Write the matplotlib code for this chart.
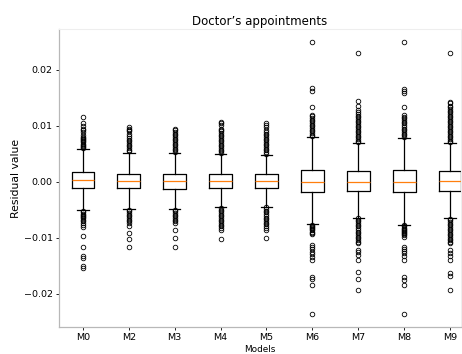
import matplotlib
matplotlib.use("Agg")
import matplotlib.pyplot as plt

models = ["M0", "M2", "M3", "M4", "M5", "M6", "M7", "M8", "M9"]
medians = [0.00025, 0.00007, 0.00007, 0.00007, 0.00007, 0.0, 0.0, 0.0, 0.0001]
q1s = [-0.00107, -0.00118, -0.00125, -0.00118, -0.00118, -0.0019, -0.0016, -0.0019, -0.0016]
q3s = [0.00173, 0.00132, 0.00132, 0.00132, 0.00135, 0.0021, 0.0019, 0.0021, 0.0019]
whis_lo = [-0.00505, -0.0049, -0.0049, -0.0046, -0.0045, -0.0076, -0.0064, -0.0077, -0.0065]
whis_hi = [0.00584, 0.0052, 0.0051, 0.0049, 0.0048, 0.0079, 0.0069, 0.0078, 0.0069]

fliers_M0 = [0.0060, 0.0062, 0.0064, 0.0066, 0.0068, 0.0070, 0.0072, 0.0074, 0.0076, 0.0078, 0.0080,
             0.0084, 0.0088, 0.0092, 0.0095, 0.0099, 0.0104, 0.0116,
             -0.0053, -0.0055, -0.0057, -0.0059, -0.0061, -0.0063, -0.0065, -0.0068, -0.0071,
             -0.0074, -0.0077, -0.0081, -0.0097, -0.0116, -0.0132, -0.0137, -0.0151, -0.0154]
fliers_M2 = [0.0054, 0.0057, 0.0060, 0.0063, 0.0066, 0.0069, 0.0072, 0.0075, 0.0078, 0.0082,
             0.0086, 0.0090, 0.0093, 0.0095, 0.0097,
             -0.0050, -0.0053, -0.0056, -0.0059, -0.0062, -0.0065, -0.0068, -0.0071, -0.0074,
             -0.0080, -0.0091, -0.0103, -0.0116]
fliers_M3 = [0.0053, 0.0056, 0.0059, 0.0062, 0.0065, 0.0068, 0.0071, 0.0074, 0.0077, 0.0080,
             0.0083, 0.0086, 0.0089, 0.0092, 0.0095,
             -0.0050, -0.0053, -0.0056, -0.0059, -0.0062, -0.0065, -0.0068, -0.0071, -0.0074,
             -0.0086, -0.0101, -0.0116]
fliers_M4 = [0.0051, 0.0054, 0.0057, 0.0060, 0.0063, 0.0066, 0.0069, 0.0072, 0.0075, 0.0078,
             0.0081, 0.0084, 0.0087, 0.0090, 0.0093, 0.0095, 0.0101, 0.0104, 0.0107,
             -0.0047, -0.0050, -0.0053, -0.0056, -0.0059, -0.0062, -0.0065, -0.0068, -0.0071,
             -0.0074, -0.0077, -0.0080, -0.0083, -0.0086, -0.0103]
fliers_M5 = [0.0050, 0.0053, 0.0056, 0.0059, 0.0062, 0.0065, 0.0068, 0.0071, 0.0074, 0.0077,
             0.0080, 0.0083, 0.0086, 0.0089, 0.0093, 0.0098, 0.0101, 0.0104,
             -0.0046, -0.0049, -0.0052, -0.0055, -0.0058, -0.0061, -0.0064, -0.0067, -0.0070,
             -0.0073, -0.0076, -0.0079, -0.0082, -0.0086, -0.0101]
fliers_M6 = [0.0081, 0.0084, 0.0087, 0.0090, 0.0093, 0.0096, 0.0099, 0.0102, 0.0105, 0.0108,
             0.0111, 0.0114, 0.0117, 0.0119, 0.0134, 0.0162, 0.0167, 0.0250,
             -0.0077, -0.0079, -0.0081, -0.0083, -0.0085, -0.0087, -0.0089, -0.0091, -0.0093,
             -0.0113, -0.0117, -0.0121, -0.0125, -0.0130, -0.0134, -0.0140,
             -0.0170, -0.0174, -0.0184, -0.0236]
fliers_M7 = [0.0070, 0.0073, 0.0076, 0.0079, 0.0082, 0.0085, 0.0088, 0.0091, 0.0094, 0.0097,
             0.0100, 0.0103, 0.0106, 0.0109, 0.0112, 0.0115, 0.0118, 0.0121, 0.0124, 0.0128,
             0.0136, 0.0145, 0.0229,
             -0.0065, -0.0068, -0.0071, -0.0074, -0.0077, -0.0080, -0.0083, -0.0086, -0.0089,
             -0.0092, -0.0095, -0.0098, -0.0101, -0.0104, -0.0107, -0.0110,
             -0.0122, -0.0126, -0.0131, -0.0140, -0.0162, -0.0174, -0.0193]
fliers_M8 = [0.0080, 0.0083, 0.0086, 0.0089, 0.0092, 0.0095, 0.0098, 0.0101, 0.0104, 0.0107,
             0.0110, 0.0113, 0.0116, 0.0119, 0.0134, 0.0158, 0.0162, 0.0166, 0.0250,
             -0.0078, -0.0080, -0.0082, -0.0084, -0.0086, -0.0088, -0.0090, -0.0092, -0.0094,
             -0.0096, -0.0098, -0.0116, -0.0120, -0.0124, -0.0128, -0.0133, -0.0140,
             -0.0170, -0.0175, -0.0184, -0.0236]
fliers_M9 = [0.0070, 0.0073, 0.0076, 0.0079, 0.0082, 0.0085, 0.0088, 0.0091, 0.0094, 0.0097,
             0.0100, 0.0103, 0.0106, 0.0109, 0.0112, 0.0115, 0.0118, 0.0121, 0.0124, 0.0127,
             0.0130, 0.0133, 0.0136, 0.0140, 0.0143, 0.0229,
             -0.0066, -0.0069, -0.0072, -0.0075, -0.0078, -0.0081, -0.0084, -0.0087, -0.0090,
             -0.0093, -0.0096, -0.0099, -0.0102, -0.0105, -0.0108, -0.0110,
             -0.0122, -0.0127, -0.0132, -0.0140, -0.0163, -0.0168, -0.0193]
fliers = [fliers_M0, fliers_M2, fliers_M3, fliers_M4, fliers_M5,
          fliers_M6, fliers_M7, fliers_M8, fliers_M9]

stats = []
for i, name in enumerate(models):
    stats.append(dict(label=name, med=medians[i], q1=q1s[i], q3=q3s[i],
                      whislo=whis_lo[i], whishi=whis_hi[i], fliers=fliers[i]))

W, H = 462, 354
fig = plt.figure(figsize=(W / 100, H / 100), dpi=100)
ax = fig.add_axes([59 / W, (354 - 327) / H, (461 - 59) / W, (327 - 29) / H])

ax.bxp(stats, positions=range(1, len(models) + 1), widths=0.5,
       boxprops=dict(color="black", linewidth=0.9),
       whiskerprops=dict(color="black", linewidth=0.9),
       capprops=dict(color="black", linewidth=0.9),
       medianprops=dict(color="#ff7f0e", linewidth=0.9),
       flierprops=dict(marker="o", markersize=3.3, markerfacecolor="none",
                       markeredgecolor="black", markeredgewidth=0.6))

ax.set_xlim(0.477, 9.24)
ax.set_ylim(-0.02595, 0.02727)
ax.set_yticks([-0.02, -0.01, 0.0, 0.01, 0.02])
ax.set_yticklabels(["\u22120.02", "\u22120.01", "0.00", "0.01", "0.02"])

ax.set_title("Doctor\u2019s appointments", fontsize=8.5, pad=3)
ax.set_xlabel("Models", fontsize=6.4, labelpad=2)
ax.set_ylabel("Residual value", fontsize=7.8, labelpad=2)
ax.tick_params(axis="both", labelsize=6.8, length=2.5, width=0.6, pad=2)

for s in ["left", "bottom"]:
    ax.spines[s].set_color("#b8b8b8")
    ax.spines[s].set_linewidth(0.9)
ax.spines["top"].set_color("#eeeeee")
ax.spines["right"].set_color("#eeeeee")
ax.spines["top"].set_linewidth(0.8)
ax.spines["right"].set_linewidth(0.8)

fig.savefig("out.png", dpi=100)
